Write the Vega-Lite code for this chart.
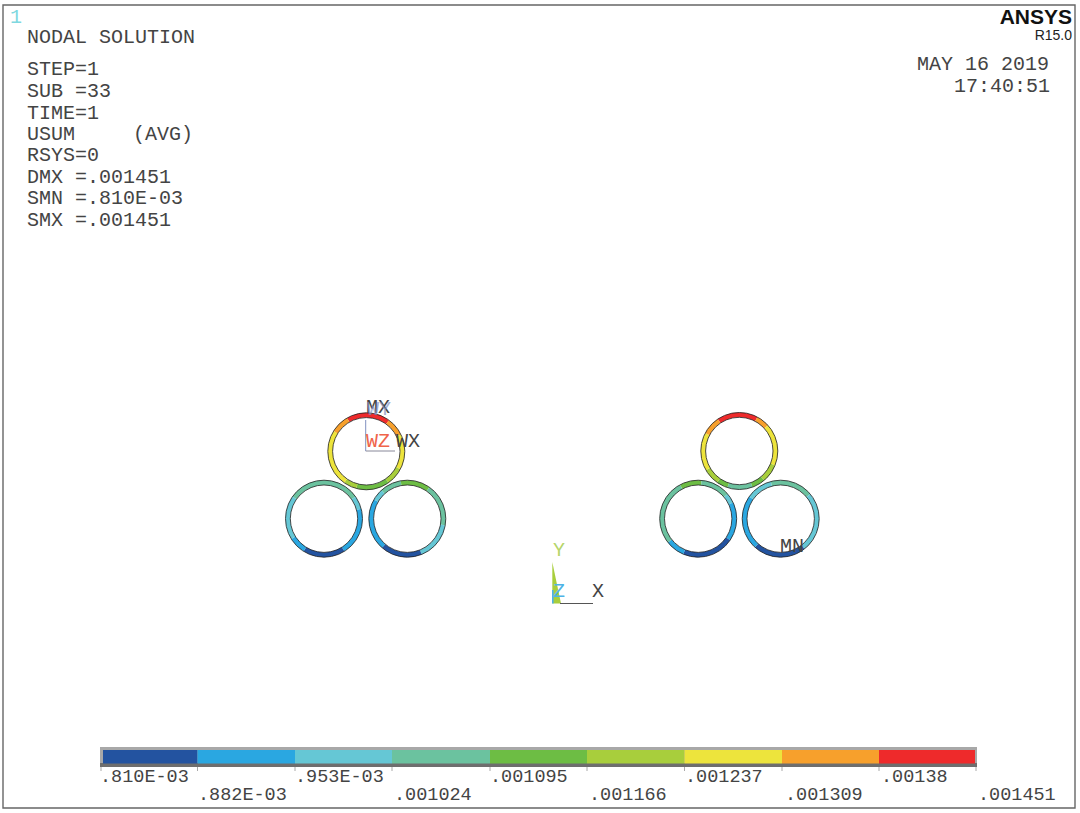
{
"$schema":"https://vega.github.io/schema/vega-lite/v6.json",
"width":1080,"height":813,"padding":0,"autosize":{"type":"none"},"background":"white",
"config":{"view":{"stroke":null}},
"datasets":{
"frame":[{"x":3,"x2":1075,"y":5,"y2":808}],
"barbg":[{"x":100,"x2":977,"y":747,"y2":764,"part":"top"},{"x":100,"x2":977,"y":763,"y2":767,"part":"bottom"}],
"bar":[
{"band":1,"x":103,"x2":197.5,"y":750,"y2":763.5},{"band":2,"x":197.5,"x2":295,"y":750,"y2":763.5},{"band":3,"x":295,"x2":392,"y":750,"y2":763.5},
{"band":4,"x":392,"x2":490,"y":750,"y2":763.5},{"band":5,"x":490,"x2":587,"y":750,"y2":763.5},{"band":6,"x":587,"x2":684.5,"y":750,"y2":763.5},
{"band":7,"x":684.5,"x2":782,"y":750,"y2":763.5},{"band":8,"x":782,"x2":879,"y":750,"y2":763.5},{"band":9,"x":879,"x2":975,"y":750,"y2":763.5}],
"ticks":[{"x":101,"y":767,"y2":771},{"x":197.5,"y":767,"y2":771},{"x":295,"y":767,"y2":771},{"x":392,"y":767,"y2":771},{"x":490,"y":767,"y2":771},{"x":587,"y":767,"y2":771},{"x":684.5,"y":767,"y2":771},{"x":782,"y":767,"y2":771},{"x":879,"y":767,"y2":771},{"x":976,"y":767,"y2":771}],
"rings":[
{"ring":"A","x":366.3,"y":451.3,"start":330,"end":396,"band":9},{"ring":"A","x":366.3,"y":451.3,"start":36,"end":64,"band":8},{"ring":"A","x":366.3,"y":451.3,"start":64,"end":118,"band":7},{"ring":"A","x":366.3,"y":451.3,"start":118,"end":145,"band":6},{"ring":"A","x":366.3,"y":451.3,"start":145,"end":195,"band":5},{"ring":"A","x":366.3,"y":451.3,"start":195,"end":215,"band":6},{"ring":"A","x":366.3,"y":451.3,"start":215,"end":302,"band":7},{"ring":"A","x":366.3,"y":451.3,"start":302,"end":330,"band":8},
{"ring":"B","x":324,"y":518.7,"start":305,"end":415,"band":4},{"ring":"B","x":324,"y":518.7,"start":55,"end":75,"band":3},{"ring":"B","x":324,"y":518.7,"start":75,"end":148,"band":2},{"ring":"B","x":324,"y":518.7,"start":148,"end":212,"band":1},{"ring":"B","x":324,"y":518.7,"start":212,"end":238,"band":2},{"ring":"B","x":324,"y":518.7,"start":238,"end":305,"band":3},
{"ring":"C","x":407.3,"y":518.7,"start":350,"end":395,"band":5},{"ring":"C","x":407.3,"y":518.7,"start":35,"end":100,"band":4},{"ring":"C","x":407.3,"y":518.7,"start":100,"end":158,"band":3},{"ring":"C","x":407.3,"y":518.7,"start":158,"end":221,"band":1},{"ring":"C","x":407.3,"y":518.7,"start":221,"end":300,"band":2},{"ring":"C","x":407.3,"y":518.7,"start":300,"end":318,"band":3},{"ring":"C","x":407.3,"y":518.7,"start":318,"end":350,"band":4},
{"ring":"D","x":739.3,"y":451,"start":326,"end":388,"band":9},{"ring":"D","x":739.3,"y":451,"start":28,"end":48,"band":8},{"ring":"D","x":739.3,"y":451,"start":48,"end":112,"band":7},{"ring":"D","x":739.3,"y":451,"start":112,"end":140,"band":6},{"ring":"D","x":739.3,"y":451,"start":140,"end":160,"band":5},{"ring":"D","x":739.3,"y":451,"start":160,"end":198,"band":4},{"ring":"D","x":739.3,"y":451,"start":198,"end":215,"band":5},{"ring":"D","x":739.3,"y":451,"start":215,"end":240,"band":6},{"ring":"D","x":739.3,"y":451,"start":240,"end":298,"band":7},{"ring":"D","x":739.3,"y":451,"start":298,"end":326,"band":8},
{"ring":"E","x":698.2,"y":518.7,"start":332,"end":365,"band":5},{"ring":"E","x":698.2,"y":518.7,"start":5,"end":50,"band":4},{"ring":"E","x":698.2,"y":518.7,"start":50,"end":65,"band":3},{"ring":"E","x":698.2,"y":518.7,"start":65,"end":124,"band":2},{"ring":"E","x":698.2,"y":518.7,"start":124,"end":203,"band":1},{"ring":"E","x":698.2,"y":518.7,"start":203,"end":232,"band":2},{"ring":"E","x":698.2,"y":518.7,"start":232,"end":332,"band":4},
{"ring":"F","x":780.7,"y":518.7,"start":345,"end":410,"band":4},{"ring":"F","x":780.7,"y":518.7,"start":50,"end":142,"band":3},{"ring":"F","x":780.7,"y":518.7,"start":142,"end":222,"band":1},{"ring":"F","x":780.7,"y":518.7,"start":222,"end":305,"band":2},{"ring":"F","x":780.7,"y":518.7,"start":305,"end":345,"band":3}],
"centers":[{"x":366.3,"y":451.3},{"x":324,"y":518.7},{"x":407.3,"y":518.7},{"x":739.3,"y":451},{"x":698.2,"y":518.7},{"x":780.7,"y":518.7}],
"info":[{"x":27,"y":37,"label":"NODAL SOLUTION"},{"x":27,"y":69,"label":"STEP=1"},{"x":27,"y":91,"label":"SUB =33"},{"x":27,"y":113,"label":"TIME=1"},{"x":27,"y":134,"label":"USUM"},{"x":133,"y":134,"label":"(AVG)"},{"x":27,"y":155,"label":"RSYS=0"},{"x":27,"y":177,"label":"DMX =.001451"},{"x":27,"y":198,"label":"SMN =.810E-03"},{"x":27,"y":220,"label":"SMX =.001451"},{"x":917,"y":64,"label":"MAY 16 2019"},{"x":954,"y":86,"label":"17:40:51"},{"x":366,"y":407,"label":"MX"},{"x":396,"y":441,"label":"WX"},{"x":780,"y":546,"label":"MN"},{"x":592,"y":591,"label":"X"}],
"barlabels":[{"x":100,"y":776,"label":".810E-03"},{"x":198,"y":793.5,"label":".882E-03"},{"x":295,"y":776,"label":".953E-03"},{"x":394,"y":793.5,"label":".001024"},{"x":490,"y":776,"label":".001095"},{"x":589,"y":793.5,"label":".001166"},{"x":685,"y":776,"label":".001237"},{"x":785,"y":793.5,"label":".001309"},{"x":881,"y":776,"label":".00138"},{"x":978,"y":793.5,"label":".001451"}]
},
"encoding":{
"x":{"field":"x","type":"quantitative","axis":null,"scale":{"domain":[0,1080],"nice":false,"zero":false}},
"y":{"field":"y","type":"quantitative","axis":null,"scale":{"domain":[813,0],"nice":false,"zero":false}}
},
"layer":[
{"data":{"name":"frame"},"mark":{"type":"rect","fill":null,"stroke":"#666666","strokeWidth":1.4},"encoding":{"x2":{"field":"x2"},"y2":{"field":"y2"}}},
{"data":{"name":"barbg"},"mark":{"type":"rect"},"encoding":{"x2":{"field":"x2"},"y2":{"field":"y2"},"color":{"field":"part","type":"nominal","legend":null,"scale":{"domain":["top","bottom"],"range":["#a8a8a8","#6e6e6e"]}}}},
{"data":{"name":"ticks"},"mark":{"type":"rule","color":"#aaaaaa","strokeWidth":1},"encoding":{"y2":{"field":"y2"}}},
{"data":{"name":"bar"},"mark":{"type":"rect"},"encoding":{"x2":{"field":"x2"},"y2":{"field":"y2"},"fill":{"field":"band","type":"ordinal","legend":null,"scale":{"domain":[1,2,3,4,5,6,7,8,9],"range":["#2353a0","#2aa7e1","#65c7d5","#6bc29f","#6dbd44","#a8ce3c","#ede43c","#f7a02c","#ee2a2b"]}}}},
{"data":{"name":"rings"},"mark":{"type":"arc","radius":38.5,"radius2":33.7},"encoding":{"theta":{"field":"start","type":"quantitative","stack":null,"scale":{"domain":[0,360],"range":[0,6.28319]}},"theta2":{"field":"end"},"fill":{"field":"band","type":"ordinal","legend":null,"scale":{"domain":[1,2,3,4,5,6,7,8,9],"range":["#2353a0","#2aa7e1","#65c7d5","#6bc29f","#6dbd44","#a8ce3c","#ede43c","#f7a02c","#ee2a2b"]}}}},
{"data":{"name":"centers"},"mark":{"type":"point","shape":"circle","filled":false,"size":5929,"stroke":"#222222","strokeWidth":1,"opacity":0.8}},
{"data":{"name":"centers"},"mark":{"type":"point","shape":"circle","filled":false,"size":4543,"stroke":"#222222","strokeWidth":1,"opacity":0.8}},
{"data":{"values":[{"x":365.7,"y":420,"y2":451}]},"mark":{"type":"rule","color":"#8090c0","strokeWidth":1},"encoding":{"y2":{"field":"y2"}}},
{"data":{"values":[{"x":365.7,"x2":395,"y":451}]},"mark":{"type":"rule","color":"#888899","strokeWidth":1},"encoding":{"x2":{"field":"x2"}}},
{"data":{"values":[{"x":552.3,"y":562,"y2":603.5},{"x":561,"y":603.5,"y2":603.5}]},"mark":{"type":"area","color":"#a8ce3c","orient":"vertical"},"encoding":{"y2":{"field":"y2"}}},
{"data":{"values":[{"x":552.8,"y":590,"y2":603.5}]},"mark":{"type":"rule","color":"#4db3e6","strokeWidth":1.6},"encoding":{"y2":{"field":"y2"}}},
{"data":{"values":[{"x":560,"x2":593,"y":603.5}]},"mark":{"type":"rule","color":"#555555","strokeWidth":1},"encoding":{"x2":{"field":"x2"}}},
{"data":{"name":"info"},"mark":{"type":"text","align":"left","baseline":"middle","font":"Liberation Mono","fontSize":20,"color":"#444444"},"encoding":{"text":{"field":"label"}}},
{"data":{"name":"barlabels"},"mark":{"type":"text","align":"left","baseline":"middle","font":"Liberation Mono","fontSize":18.5,"color":"#444444"},"encoding":{"text":{"field":"label"}}},
{"data":{"values":[{"x":10,"y":17,"label":"1"}]},"mark":{"type":"text","align":"left","baseline":"middle","font":"Liberation Mono","fontSize":20,"color":"#7fd8e0"},"encoding":{"text":{"field":"label"}}},
{"data":{"values":[{"x":366,"y":441,"label":"WZ"}]},"mark":{"type":"text","align":"left","baseline":"middle","font":"Liberation Mono","fontSize":20,"color":"#f0644a"},"encoding":{"text":{"field":"label"}}},
{"data":{"values":[{"x":367,"y":409,"label":"WY"}]},"mark":{"type":"text","align":"left","baseline":"middle","font":"Liberation Mono","fontSize":20,"color":"#7f8fc0","opacity":0.7},"encoding":{"text":{"field":"label"}}},
{"data":{"values":[{"x":553,"y":550,"label":"Y"}]},"mark":{"type":"text","align":"left","baseline":"middle","font":"Liberation Mono","fontSize":20,"color":"#b5d56a"},"encoding":{"text":{"field":"label"}}},
{"data":{"values":[{"x":553,"y":591,"label":"Z"}]},"mark":{"type":"text","align":"left","baseline":"middle","font":"Liberation Mono","fontSize":20,"color":"#4db3e6"},"encoding":{"text":{"field":"label"}}},
{"data":{"values":[{"x":1072,"y":18,"label":"ANSYS"}]},"mark":{"type":"text","align":"right","baseline":"middle","font":"Liberation Sans","fontWeight":"bold","fontSize":21,"color":"#111111"},"encoding":{"text":{"field":"label"}}},
{"data":{"values":[{"x":1072,"y":36,"label":"R15.0"}]},"mark":{"type":"text","align":"right","baseline":"middle","font":"Liberation Sans","fontSize":14,"color":"#222222"},"encoding":{"text":{"field":"label"}}}
]
}
